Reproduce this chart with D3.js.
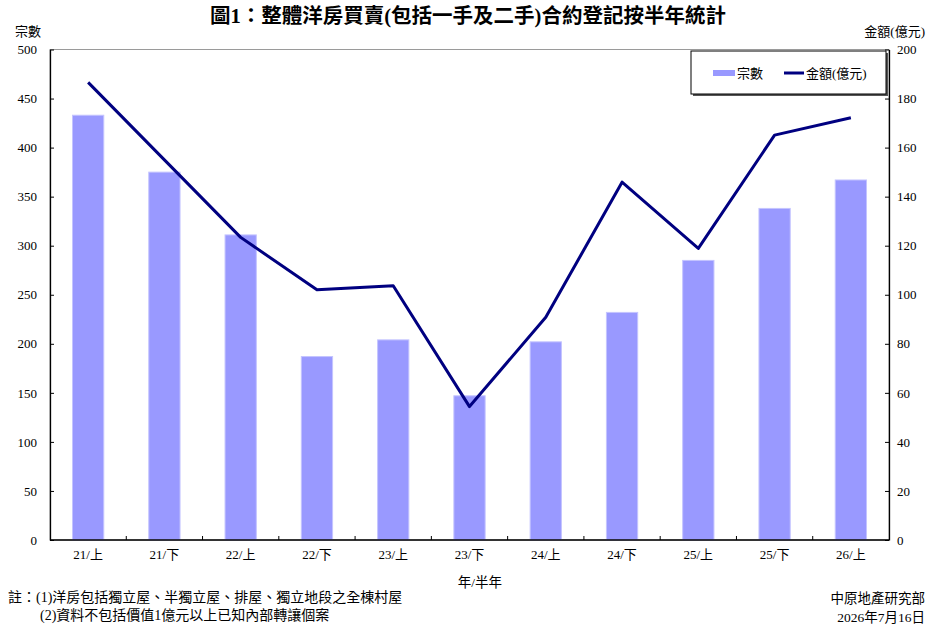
<!DOCTYPE html>
<html>
<head>
<meta charset="utf-8">
<script src="https://cdn.jsdelivr.net/npm/d3@7"></script>
<style>
  body { margin: 0; background: #fff; }
  svg { font-family: "Liberation Serif", "Noto Sans CJK TC", serif; }
</style>
</head>
<body>
<div class="chart"></div>
<script>
const periods = ['21/上', '21/下', '22/上', '22/下', '23/上', '23/下', '24/上', '24/下', '25/上', '25/下', '26/上'];
const cases = [433, 375, 311, 187, 204, 147, 202, 232, 285, 338, 367];
const amount = [186.6, 155, 123.4, 102, 103.7, 54.4, 90.8, 145.9, 118.9, 165.1, 172.2];
const leftTicks = [0, 50, 100, 150, 200, 250, 300, 350, 400, 450, 500];
const rightTicks = [0, 20, 40, 60, 80, 100, 120, 140, 160, 180, 200];

const width = 936;
const height = 641;
const plotL = 50, plotR = 889, plotT = 49.5, plotB = 540;

const svg = d3.select('.chart').append('svg').attr('width', width).attr('height', height);

const x = d3.scaleBand().domain(periods).range([plotL, plotR]).paddingInner(0.59).paddingOuter(0.295);
const y = d3.scaleLinear().domain([0, 500]).range([plotB, plotT]);
const y2 = d3.scaleLinear().domain([0, 200]).range([plotB, plotT]);

// plot frame
svg.append('rect').attr('x', plotL).attr('y', plotT).attr('width', plotR - plotL).attr('height', plotB - plotT)
    .attr('fill', 'none').attr('stroke', '#9a9a9a').attr('stroke-width', 1);

// bars
svg.selectAll('rect.bar').data(cases).enter().append('rect')
    .attr('class', 'bar')
    .attr('x', (d, i) => x(periods[i]))
    .attr('y', d => y(d))
    .attr('width', x.bandwidth())
    .attr('height', d => plotB - y(d))
    .attr('fill', '#9999ff')
    .attr('stroke', '#c4c4ff')
    .attr('stroke-width', 1);

// line
const line = d3.line().x((d, i) => x(periods[i]) + x.bandwidth() / 2).y(d => y2(d));
svg.append('path').datum(amount).attr('d', line)
    .attr('fill', 'none').attr('stroke', '#000080').attr('stroke-width', 3).attr('stroke-linejoin', 'round');

// axes
const yAxis = svg.append('g').attr('transform', `translate(${plotL},0)`)
    .call(d3.axisLeft(y).tickValues(leftTicks).tickSizeInner(-4).tickSizeOuter(0).tickPadding(13));
const y2Axis = svg.append('g').attr('transform', `translate(${plotR},0)`)
    .call(d3.axisRight(y2).tickValues(rightTicks).tickSizeInner(-4).tickSizeOuter(0).tickPadding(8));
const xAxis = svg.append('g').attr('transform', `translate(0,${plotB})`)
    .call(d3.axisBottom(x).tickSize(0).tickPadding(10));

[yAxis, y2Axis, xAxis].forEach(a => {
    a.selectAll('path').attr('stroke', '#000').attr('stroke-width', 1.3);
    a.selectAll('line').attr('stroke', '#000');
    a.selectAll('text').attr('font-size', 13).attr('fill', '#000')
        .attr('font-family', '"Liberation Serif", "Noto Sans CJK TC", serif');
});
xAxis.select('.domain').attr('d', `M${plotL},0H${plotR}`);

// boundary ticks on category axis
const boundaries = d3.range(periods.length + 1).map(i => plotL + i * x.step());
svg.selectAll('line.xtick').data(boundaries.slice(1, -1)).enter().append('line')
    .attr('x1', d => d).attr('x2', d => d).attr('y1', plotB).attr('y2', plotB - 4)
    .attr('stroke', '#000');

// titles
svg.append('text').attr('x', 468).attr('y', 23).attr('text-anchor', 'middle')
    .attr('font-size', 20.5).attr('font-weight', 'bold').text('圖1：整體洋房買賣(包括一手及二手)合約登記按半年統計');
svg.append('text').attr('x', 15).attr('y', 36).attr('font-size', 13).text('宗數');
svg.append('text').attr('x', 925).attr('y', 36).attr('text-anchor', 'end').attr('font-size', 13).text('金額(億元)');
svg.append('text').attr('x', 480).attr('y', 587).attr('text-anchor', 'middle').attr('font-size', 13.5).text('年/半年');

// legend
const lg = svg.append('g');
lg.append('rect').attr('x', 693).attr('y', 53).attr('width', 195).attr('height', 43).attr('fill', '#555');
lg.append('rect').attr('x', 691).attr('y', 51).attr('width', 195).attr('height', 43)
    .attr('fill', '#fff').attr('stroke', '#000').attr('stroke-width', 1);
lg.append('rect').attr('x', 713).attr('y', 70).attr('width', 22).attr('height', 6).attr('fill', '#9999ff');
lg.append('text').attr('x', 737).attr('y', 78).attr('font-size', 13).text('宗數');
lg.append('line').attr('x1', 784).attr('x2', 804).attr('y1', 73).attr('y2', 73)
    .attr('stroke', '#000080').attr('stroke-width', 3);
lg.append('text').attr('x', 806).attr('y', 78).attr('font-size', 13).text('金額(億元)');

// notes
svg.append('text').attr('x', 8).attr('y', 602).attr('font-size', 14).text('註：(1)洋房包括獨立屋、半獨立屋、排屋、獨立地段之全棟村屋');
svg.append('text').attr('x', 40).attr('y', 620).attr('font-size', 14).text('(2)資料不包括價值1億元以上已知內部轉讓個案');
svg.append('text').attr('x', 925).attr('y', 603).attr('text-anchor', 'end').attr('font-size', 13.5).text('中原地產研究部');
svg.append('text').attr('x', 925).attr('y', 622).attr('text-anchor', 'end').attr('font-size', 13.5).text('2026年7月16日');
</script>
</body>
</html>
